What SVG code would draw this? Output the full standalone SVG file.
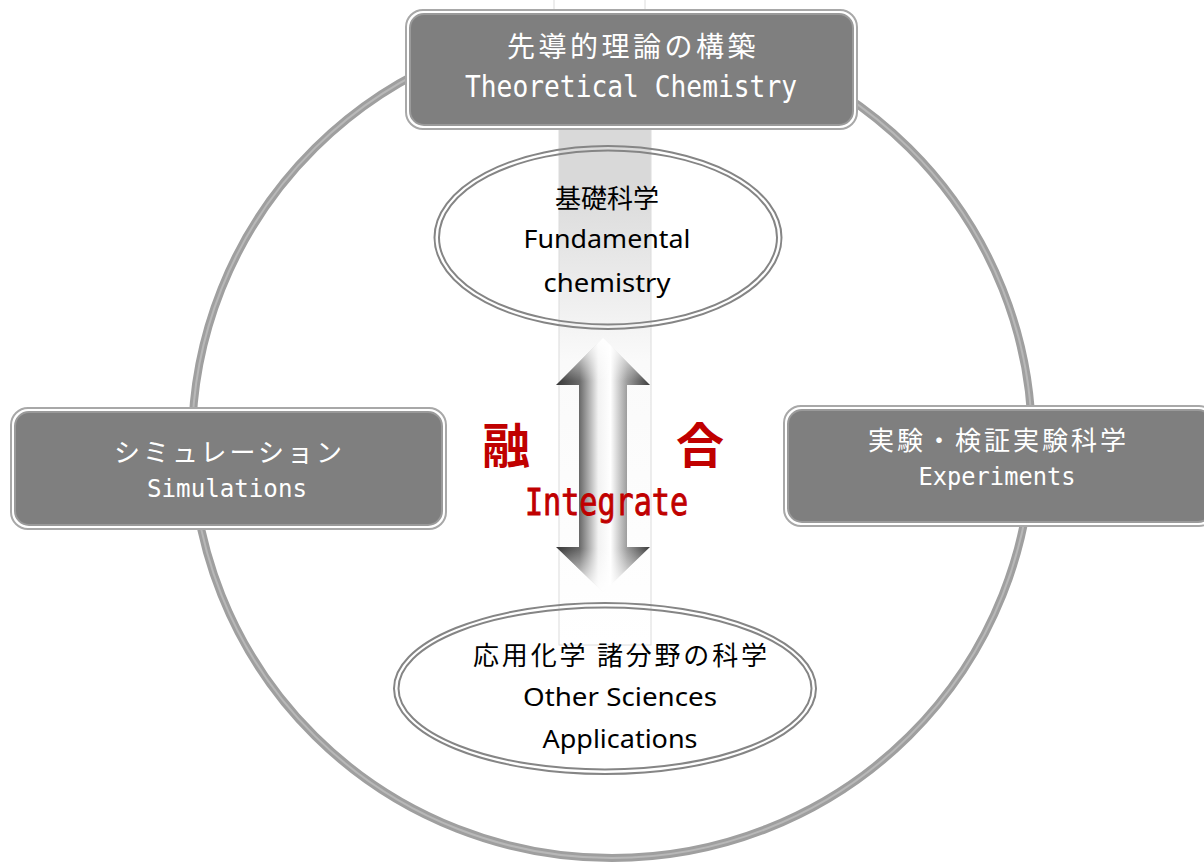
<svg xmlns="http://www.w3.org/2000/svg" width="1204" height="863" viewBox="0 0 1204 863">
<style>
.ring-o{fill:none;stroke:#9f9f9f;stroke-width:8}
.ring-i{fill:none;stroke:#b8b8b8;stroke-width:2}
.box-o{fill:#ffffff;stroke:#a8a8a8;stroke-width:2}
.box-i{fill:#7f7f7f;stroke:#9a9a9a;stroke-width:2}
.ell{fill:none;stroke:#858585;stroke-width:2}
.jpw{font-family:"Noto Sans CJK JP","Noto Sans",sans-serif;fill:#ffffff;text-anchor:middle}
.enw{font-family:"DejaVu Sans Mono","Liberation Mono",monospace;fill:#ffffff;text-anchor:middle}
.jpb{font-family:"Noto Sans CJK JP","Noto Sans",sans-serif;fill:#000000;text-anchor:middle;font-size:26px}
.enb{font-family:"Noto Sans","Open Sans",sans-serif;fill:#000000;text-anchor:middle;font-size:26px}
.red{fill:#c00000;text-anchor:middle}
</style>
<defs>
<linearGradient id="band" x1="0" y1="0" x2="0" y2="645" gradientUnits="userSpaceOnUse">
<stop offset="0" stop-color="#d9d9d9"/>
<stop offset="0.28" stop-color="#d9d9d9"/>
<stop offset="0.56" stop-color="#fafafa"/>
<stop offset="1" stop-color="#ffffff"/>
</linearGradient>
<linearGradient id="arrowH" x1="556" y1="0" x2="650" y2="0" gradientUnits="userSpaceOnUse">
<stop offset="0" stop-color="#383838"/>
<stop offset="0.25" stop-color="#6a6a6a"/>
<stop offset="0.45" stop-color="#f2f2f2"/>
<stop offset="0.58" stop-color="#ffffff"/>
<stop offset="0.76" stop-color="#9a9a9a"/>
<stop offset="1" stop-color="#3c3c3c"/>
</linearGradient>
<linearGradient id="arrowV" x1="0" y1="338" x2="0" y2="592" gradientUnits="userSpaceOnUse">
<stop offset="0" stop-color="#ffffff" stop-opacity="0.95"/>
<stop offset="0.17" stop-color="#ffffff" stop-opacity="0"/>
<stop offset="0.83" stop-color="#ffffff" stop-opacity="0"/>
<stop offset="1" stop-color="#ffffff" stop-opacity="0.95"/>
</linearGradient>
</defs>
<rect width="1204" height="863" fill="#ffffff"/>

<g id="connectors">
<ellipse class="ring-o" cx="612" cy="442" rx="420" ry="416"/>
<ellipse class="ring-i" cx="612" cy="442" rx="420" ry="416"/>
<rect x="554" y="-2" width="91" height="16" fill="#ffffff" stroke="#dcdcdc" stroke-width="1"/>
<rect x="559" y="12" width="92" height="633" fill="url(#band)" stroke="#dcdcdc" stroke-width="1"/>
<g id="arrow">
<path d="M603,338 L650,385 L627,385 L627,547 L650,547 L603,592 L556,547 L579,547 L579,385 L556,385 Z" fill="url(#arrowH)"/>
<path d="M603,338 L650,385 L627,385 L627,547 L650,547 L603,592 L556,547 L579,547 L579,385 L556,385 Z" fill="url(#arrowV)"/>
</g>
</g>

<g id="node-theory">
<rect class="box-o" x="406" y="10" width="451" height="119" rx="17"/>
<rect class="box-i" x="410" y="14" width="443" height="111" rx="14"/>
<text class="jpw" x="633" y="57" font-size="28" letter-spacing="3.5">先導的理論の構築</text>
<text class="enw" x="631" y="97" font-size="30" textLength="332" lengthAdjust="spacingAndGlyphs">Theoretical Chemistry</text>
</g>

<g id="node-simulation">
<rect class="box-o" x="11" y="408" width="435" height="121" rx="17"/>
<rect class="box-i" x="15" y="412" width="427" height="113" rx="14"/>
<text class="jpw" x="229.5" y="462" font-size="26" letter-spacing="3">シミュレーション</text>
<text class="enw" x="227" y="497" font-size="25" textLength="160" lengthAdjust="spacingAndGlyphs">Simulations</text>
</g>

<g id="node-experiments">
<rect class="box-o" x="784" y="406" width="432" height="120" rx="17"/>
<rect class="box-i" x="788" y="410" width="424" height="112" rx="14"/>
<text class="jpw" x="998.5" y="450" font-size="26" letter-spacing="3">実験・検証実験科学</text>
<text class="enw" x="997" y="485" font-size="25" textLength="157" lengthAdjust="spacingAndGlyphs">Experiments</text>
</g>

<g id="node-fundamental">
<ellipse class="ell" cx="608" cy="237.5" rx="173.5" ry="91.5"/>
<ellipse class="ell" cx="608" cy="237.5" rx="169" ry="87" stroke-width="1.6"/>
<text class="jpb" x="607" y="208" font-size="27">基礎科学</text>
<text class="enb" x="607" y="248" textLength="167" lengthAdjust="spacingAndGlyphs">Fundamental</text>
<text class="enb" x="607" y="292" textLength="127" lengthAdjust="spacingAndGlyphs">chemistry</text>
</g>

<g id="node-applications">
<ellipse class="ell" cx="605" cy="688.5" rx="211" ry="85.5"/>
<ellipse class="ell" cx="605" cy="688.5" rx="206.5" ry="81" stroke-width="1.6"/>
<text class="jpb" x="620" y="665" textLength="294" lengthAdjust="spacing">応用化学 諸分野の科学</text>
<text class="enb" x="620" y="706" textLength="194" lengthAdjust="spacingAndGlyphs">Other Sciences</text>
<text class="enb" x="620" y="748" textLength="155" lengthAdjust="spacingAndGlyphs">Applications</text>
</g>

<g id="label-integrate">
<text class="red" x="506" y="463" font-size="48" font-weight="bold" font-family="Noto Sans CJK JP, sans-serif">融</text>
<text class="red" x="700" y="463" font-size="48" font-weight="bold" font-family="Noto Sans CJK JP, sans-serif">合</text>
<text class="red" x="606.5" y="515" font-size="37" font-family="DejaVu Sans Mono, monospace" stroke="#c00000" stroke-width="0.9" textLength="163" lengthAdjust="spacingAndGlyphs">Integrate</text>
</g>
</svg>
